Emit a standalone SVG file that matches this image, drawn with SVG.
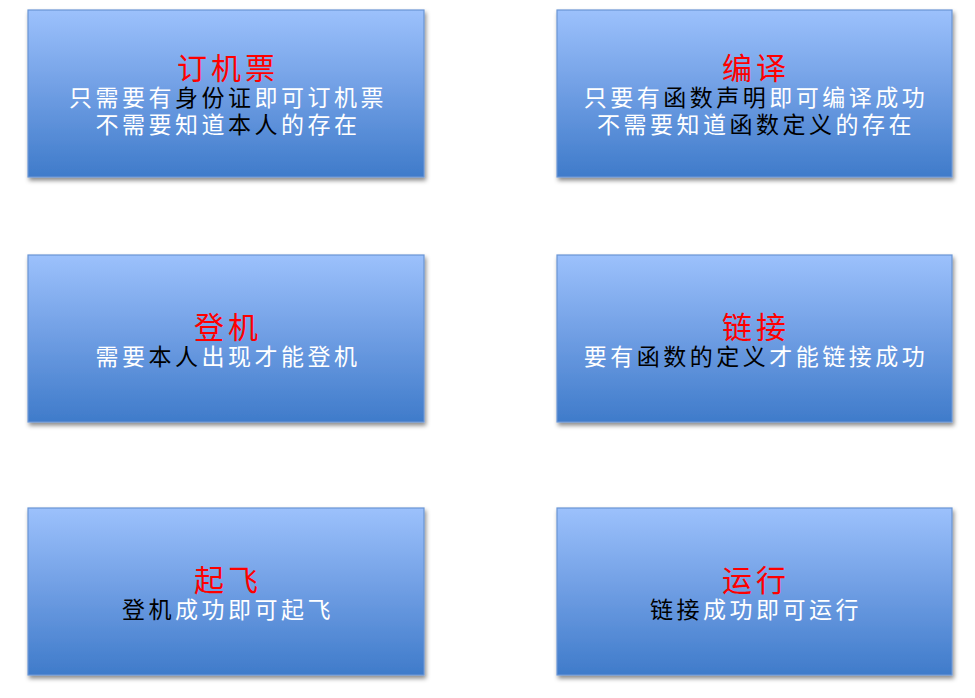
<svg xmlns="http://www.w3.org/2000/svg" width="975" height="698" viewBox="0 0 975 698">
<defs>
<linearGradient id="g" x1="0" y1="0" x2="0" y2="1">
<stop offset="0" stop-color="#9CC1FC"/>
<stop offset="0.5" stop-color="#6E9DE3"/>
<stop offset="1" stop-color="#3F7BCA"/>
</linearGradient>
<filter id="sh" x="-5%" y="-5%" width="112%" height="115%">
<feDropShadow dx="1.5" dy="3" stdDeviation="2" flood-color="#000" flood-opacity="0.45"/>
</filter>
</defs>
<style>
.box{fill:url(#g);stroke:#6A95D4;stroke-width:1.2;filter:url(#sh)}
text{font-family:"Noto Sans CJK SC","Noto Sans CJK JP",sans-serif;text-anchor:middle}
.t{fill:#FF0000;font-size:30px;letter-spacing:4px}
.b{fill:#FFFFFF;font-size:23px;letter-spacing:3.5px}
.k{fill:#000000}
</style>
<rect width="975" height="698" fill="#FFFFFF"/>
<g id="node-dingjipiao">
<rect class="box" x="28" y="10" width="396" height="167"/>
<text class="t" x="228" y="79">订机票</text>
<text class="b" x="228" y="106">只需要有<tspan class="k">身份证</tspan>即可订机票</text>
<text class="b" x="228" y="133">不需要知道<tspan class="k">本人</tspan>的存在</text>
</g>
<g id="node-bianyi">
<rect class="box" x="557" y="10" width="395" height="167"/>
<text class="t" x="756" y="79">编译</text>
<text class="b" x="756" y="106">只要有<tspan class="k">函数声明</tspan>即可编译成功</text>
<text class="b" x="756" y="133">不需要知道<tspan class="k">函数定义</tspan>的存在</text>
</g>
<g id="node-dengji">
<rect class="box" x="28" y="255" width="396" height="167"/>
<text class="t" x="228" y="338">登机</text>
<text class="b" x="228" y="365">需要<tspan class="k">本人</tspan>出现才能登机</text>
</g>
<g id="node-lianjie">
<rect class="box" x="557" y="255" width="395" height="167"/>
<text class="t" x="756" y="338">链接</text>
<text class="b" x="756" y="365">要有<tspan class="k">函数的定义</tspan>才能链接成功</text>
</g>
<g id="node-qifei">
<rect class="box" x="28" y="508" width="396" height="167"/>
<text class="t" x="228" y="591">起飞</text>
<text class="b" x="228" y="618"><tspan class="k">登机</tspan>成功即可起飞</text>
</g>
<g id="node-yunxing">
<rect class="box" x="557" y="508" width="395" height="167"/>
<text class="t" x="756" y="591">运行</text>
<text class="b" x="756" y="618"><tspan class="k">链接</tspan>成功即可运行</text>
</g>
<g id="connectors"></g>
</svg>
